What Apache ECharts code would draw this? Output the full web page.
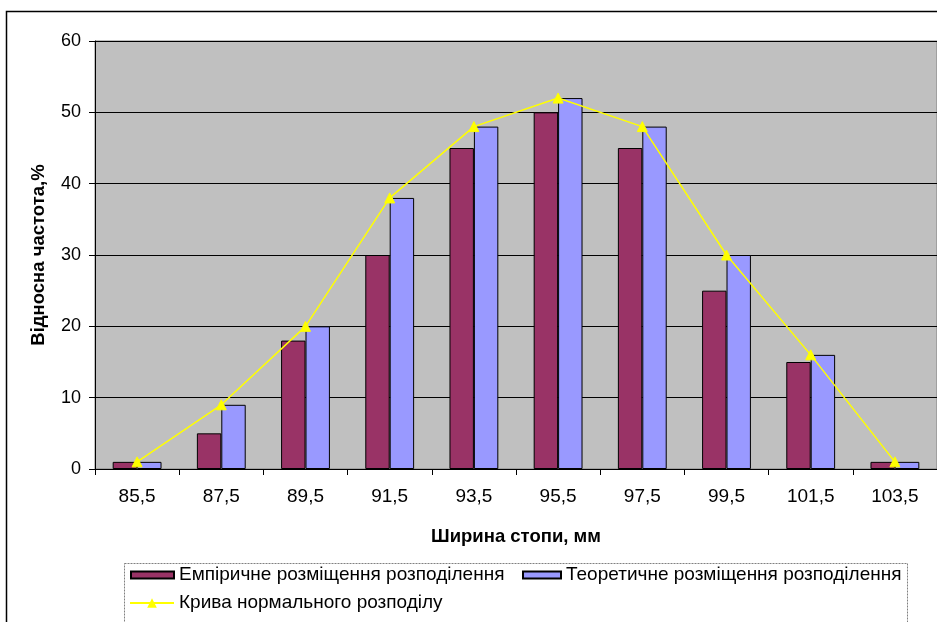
<!DOCTYPE html>
<html>
<head>
<meta charset="utf-8">
<script src="https://cdn.jsdelivr.net/npm/echarts@6/dist/echarts.min.js"></script>
<style>
  html, body { margin: 0; padding: 0; background: #ffffff; }
  #chart { width: 937px; height: 622px; }
</style>
</head>
<body>
<div id="chart"></div>
<script>
// Foot width classes (mm)
var categories = ['85,5', '87,5', '89,5', '91,5', '93,5', '95,5', '97,5', '99,5', '101,5', '103,5'];
// Relative frequency, %
var empirical = [1, 5, 18, 30, 45, 50, 45, 25, 15, 1];
var theoretical = [1, 9, 20, 38, 48, 52, 48, 30, 16, 1];
var normalCurve = [1, 9, 20, 38, 48, 52, 48, 30, 16, 1];
var yTicks = [0, 10, 20, 30, 40, 50, 60];

var FONT = 'Liberation Sans, Arial, sans-serif';
var chart = echarts.init(document.getElementById('chart'), null, { renderer: 'canvas' });

var legendText = { fontFamily: FONT, fontSize: 19, color: '#000', lineHeight: 20 };

chart.setOption({
  animation: false,
  backgroundColor: '#ffffff',
  graphic: [
    { type: 'rect', silent: true, z: 0,
      shape: { x: 6.5, y: 11.5, width: 940, height: 620 },
      style: { fill: 'none', stroke: '#000', lineWidth: 1.5 } },
    { type: 'rect', silent: true, z: 0,
      shape: { x: 124.5, y: 563.5, width: 783, height: 80 },
      style: { fill: 'none', stroke: '#808080', lineWidth: 1, lineDash: [2, 1] } }
  ],
  grid: {
    left: 95, top: 41, width: 843, height: 428,
    show: true, backgroundColor: '#c0c0c0', borderColor: '#808080', borderWidth: 1
  },
  legend: [
    { left: 130, top: 565, padding: 0, itemWidth: 43, itemHeight: 7, icon: 'rect',
      textStyle: legendText, data: [{ name: 'Емпіричне розміщення розподілення' }] },
    { left: 522, top: 565, padding: 0, itemWidth: 38, itemHeight: 7, icon: 'rect',
      textStyle: legendText, data: [{ name: 'Теоретичне розміщення розподілення' }] },
    { left: 129, top: 593, padding: 0, itemWidth: 44, itemHeight: 12,
      textStyle: legendText, data: [{ name: 'Крива нормального розподілу' }] }
  ],
  xAxis: {
    type: 'category',
    data: categories,
    boundaryGap: true,
    name: 'Ширина стопи, мм',
    nameLocation: 'middle',
    nameGap: 58,
    nameTextStyle: { fontFamily: FONT, fontSize: 18.5, fontWeight: 'bold', color: '#000' },
    axisLine: { lineStyle: { color: '#000', width: 1 } },
    axisTick: { show: true, length: 6, lineStyle: { color: '#000' } },
    axisLabel: { fontFamily: FONT, fontSize: 19, color: '#000', margin: 18 },
    splitLine: { show: false }
  },
  yAxis: {
    type: 'value',
    min: yTicks[0], max: yTicks[yTicks.length - 1], interval: 10,
    name: 'Відносна частота,%',
    nameLocation: 'middle',
    nameGap: 47,
    nameRotate: 90,
    nameTextStyle: { fontFamily: FONT, fontSize: 18.5, fontWeight: 'bold', color: '#000' },
    axisLine: { show: true, lineStyle: { color: '#000', width: 1 } },
    axisTick: { show: true, length: 6, lineStyle: { color: '#000' } },
    axisLabel: { fontFamily: FONT, fontSize: 18, color: '#000', margin: 14 },
    splitLine: { show: true, lineStyle: { color: '#000', width: 1 } }
  },
  series: [
    {
      name: 'Емпіричне розміщення розподілення',
      type: 'bar',
      data: empirical,
      barGap: '0%',
      barCategoryGap: '42%',
      itemStyle: { color: '#993366', borderColor: '#000', borderWidth: 1 }
    },
    {
      name: 'Теоретичне розміщення розподілення',
      type: 'bar',
      data: theoretical,
      barGap: '0%',
      barCategoryGap: '42%',
      itemStyle: { color: '#9999ff', borderColor: '#000', borderWidth: 1 }
    },
    {
      name: 'Крива нормального розподілу',
      type: 'line',
      data: normalCurve,
      symbol: 'triangle',
      symbolSize: 10,
      z: 5,
      lineStyle: { color: '#ffff00', width: 1.5 },
      itemStyle: { color: '#ffff00', borderColor: '#ffff00' }
    }
  ]
});
</script>
</body>
</html>
